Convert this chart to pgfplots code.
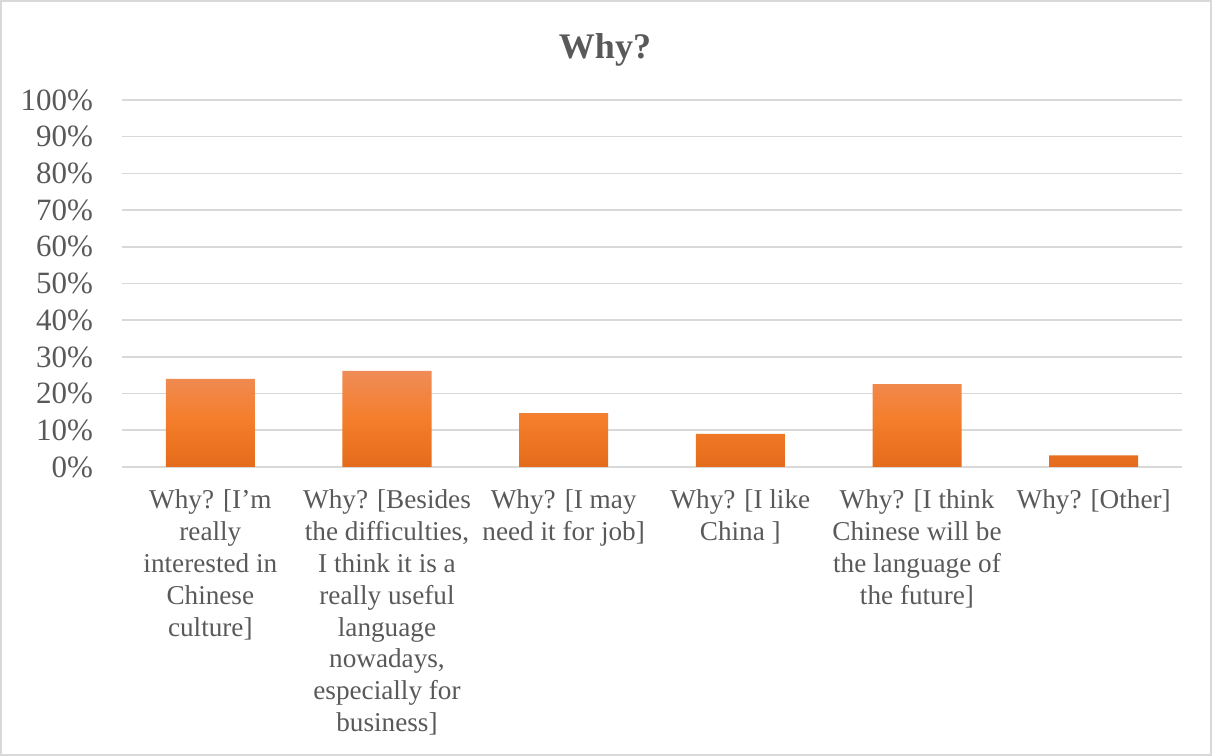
\documentclass[border=0pt]{standalone}
\usepackage{pgfplots}
\pgfplotsset{compat=1.18}
\usepackage{fontspec}
\setmainfont{Liberation Serif}
\definecolor{txt}{HTML}{595959}
\definecolor{gridc}{HTML}{D9D9D9}
\definecolor{otop}{HTML}{EF8C58}
\definecolor{omid}{HTML}{F47E2B}
\definecolor{obot}{HTML}{E46B1B}
\begin{document}
\begin{tikzpicture}
\useasboundingbox (0,0) rectangle (606pt,378pt);
\draw[gridc, line width=0.8pt] (0.4pt,0.4pt) rectangle (605.6pt,377.6pt);
\node[txt, font=\fontsize{18}{20}\selectfont\bfseries] at (302.5pt,353pt) {Why?};
\begin{axis}[
  at={(61pt,144.5pt)}, anchor=south west,
  scale only axis, width=530pt, height=183.5pt,
  xmin=-0.5, xmax=5.5, ymin=0, ymax=100,
  axis x line*=bottom, axis y line*=left,
  x axis line style={gridc, line width=0.9pt, -},
  y axis line style={draw=none},
  ytick={0,10,...,100},
  ymajorgrids, grid style={gridc, line width=0.8pt},
  major tick length=0pt,
  /pgf/number format/assume math mode=true,
  yticklabel={\pgfmathprintnumber{\tick}\%},
  yticklabel style={txt, font=\fontsize{15.5}{17}\selectfont, xshift=-11pt},
  ytick style={draw=none},
  xtick={0,...,5},
  xticklabels={
    {Why? [I’m\\really\\interested in\\Chinese\\culture]},
    {Why? [Besides\\the difficulties,\\I think it is a\\really useful\\language\\nowadays,\\especially for\\business]},
    {Why? [I may\\need it for job]},
    {Why? [I like\\China ]},
    {Why? [I think\\Chinese will be\\the language of\\the future]},
    {Why? [Other]}},
  xticklabel style={txt, font=\fontsize{13.6}{15.9}\selectfont, align=center, anchor=north, yshift=-8pt},
  xtick style={draw=none},
  clip=false,
]
\addplot[ybar, bar width=44.5pt, draw=none, top color=otop, bottom color=obot, middle color=omid]
  coordinates {(0,24.0) (1,26.2) (2,14.7) (3,9.0) (4,22.6) (5,3.2)};
\end{axis}
\end{tikzpicture}
\end{document}
